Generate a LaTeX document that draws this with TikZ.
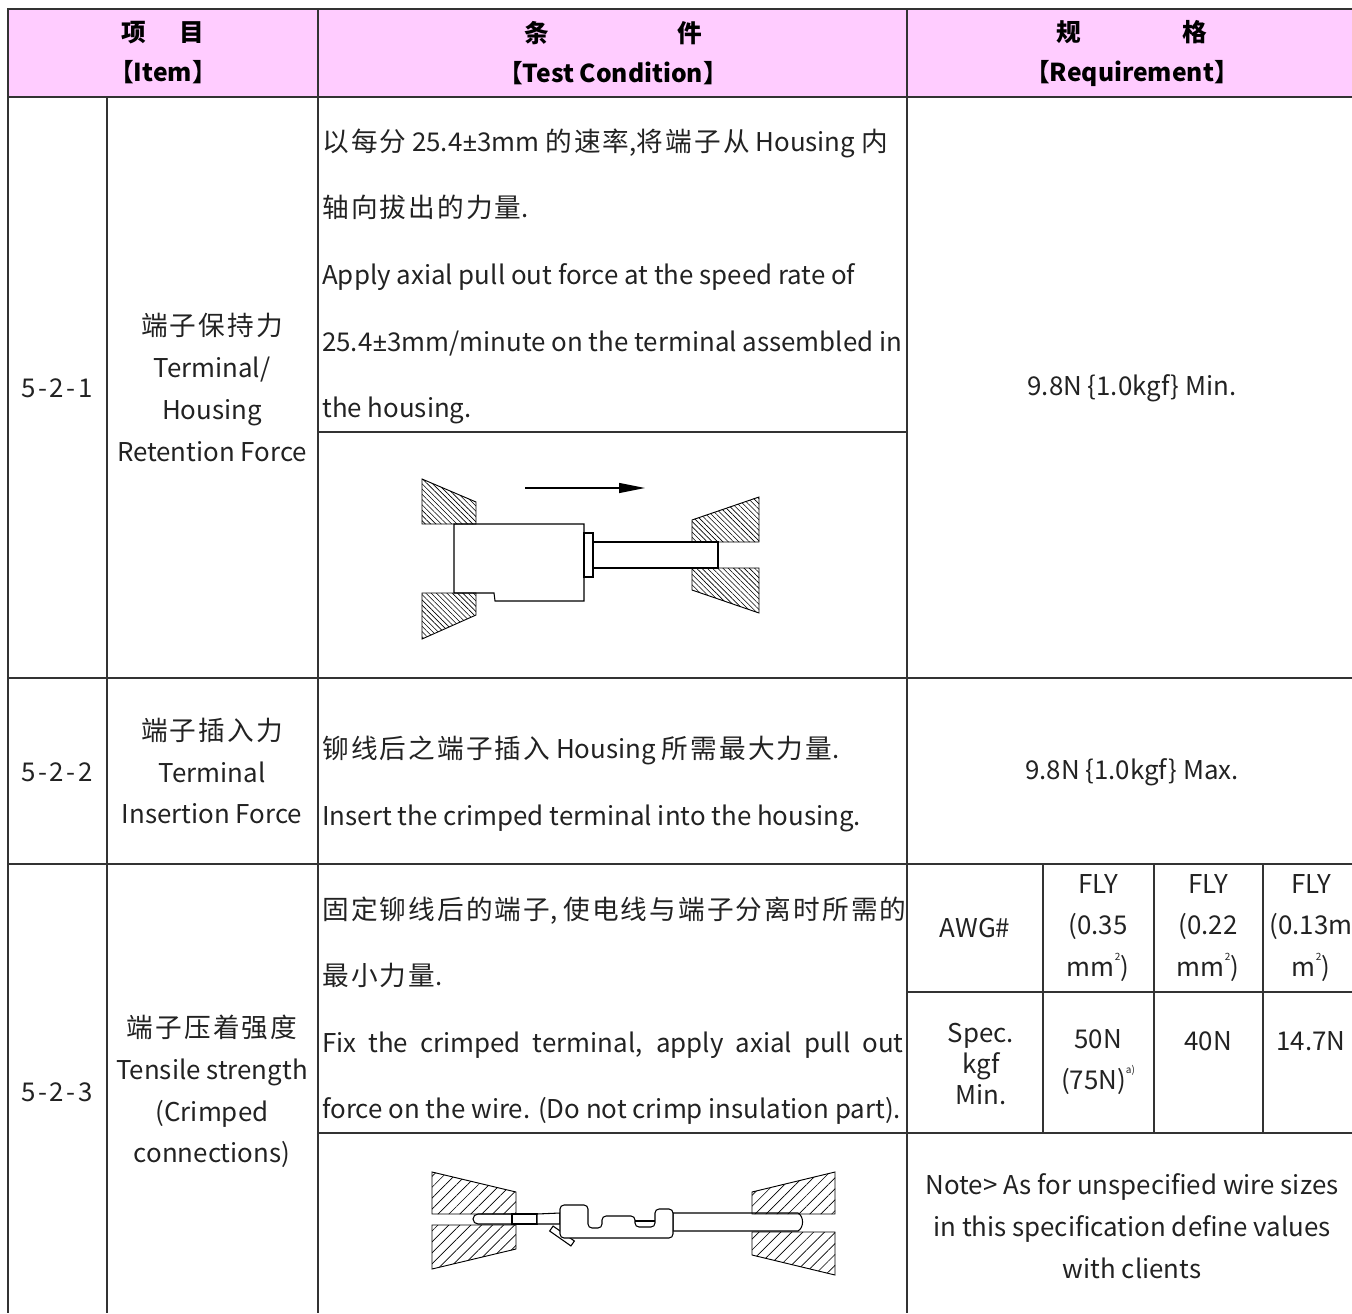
\documentclass[tikz,border=0pt]{standalone}
\usepackage{fontspec}
\setmainfont{Noto Sans CJK SC}
\newfontfamily\cjk[Scale=1.03, LetterSpace=8]{Noto Sans CJK SC}
\newfontfamily\pmfont{Noto Sans}
\usetikzlibrary{positioning, arrows.meta, patterns.meta}
\definecolor{headpink}{HTML}{FFCCFF}
\definecolor{inkgray}{HTML}{222222}
\newcommand{\supsc}[1]{\raisebox{0.62em}{\fontsize{7.5}{8}\selectfont #1}}
\newcommand{\pmsign}{{\pmfont ±}}
\tikzset{
  tline/.style={
    draw=black!80,
    line width=1.1pt
  },
  headtext/.style={
    font=\fontsize{18.5}{30}\selectfont\bfseries,
    align=center,
    inner sep=0pt
  },
  celltext/.style={
    font=\fontsize{19.4}{31.3}\selectfont,
    text=inkgray,
    align=center,
    inner sep=0pt
  },
  numtext/.style={
    celltext,
    font=\fontsize{19.4}{31.3}\selectfont\addfontfeature{LetterSpace=10}
  },
  condline/.style={
    font=\fontsize{19.4}{22}\selectfont,
    text=inkgray,
    anchor=west,
    inner sep=0pt,
    text height=0.8em,
    text depth=0.2em,
    yshift=-3pt
  },
  part/.style={
    draw,
    line width=0.8pt,
    fill=white
  },
  hatchfine/.style={
    draw,
    line width=0.7pt,
    pattern={Lines[angle=-45,distance=2.8pt,line width=0.45pt]}
  },
  hatchwide/.style={
    draw,
    line width=0.7pt,
    pattern={Lines[angle=45,distance=5.8pt,line width=0.5pt]}
  }
}

\begin{document}
\begin{tikzpicture}[x=0.75pt, y=-0.75pt]
  \useasboundingbox (0,0) rectangle (1352,1313);
  \clip (0,0) rectangle (1352,1313);

  % table frame
  \fill[headpink] (8,9) rectangle (1352,97);
  \draw[tline] (1352,9) -- (8,9) -- (8,1313);
  \draw[tline] (8,97) -- (1352,97);
  \draw[tline] (8,678) -- (1352,678);
  \draw[tline] (8,864) -- (1352,864);
  \draw[tline] (107,97) -- (107,1313);
  \draw[tline] (318,9) -- (318,1313);
  \draw[tline] (907,9) -- (907,1313);
  \draw[tline] (318,432) -- (907,432);
  \draw[tline] (318,1133) -- (1352,1133);
  \draw[tline] (907,992) -- (1352,992);
  \draw[tline] (1043,864) -- (1043,1133);
  \draw[tline] (1154,864) -- (1154,1133);
  \draw[tline] (1263,864) -- (1263,1133);

  % header
  \node[headtext] (hItem) at (163,53) {项\hspace{1.35em}目\\【Item】};
  \node[headtext] (hCond) at (613,53) {条\hspace{5.2em}件\\【Test Condition】};
  \node[headtext] (hReq) at (1132,53) {规\hspace{4.1em}格\\【Requirement】};

  % 5-2-1
  \node[numtext] (no1) at (57,388) {5-2-1};
  \node[celltext] (item1) at (212,387.5) {{\cjk 端子保持力}\\Terminal/\\Housing\\Retention Force};
  \node[condline] (cond1a) at (322,143) {{\cjk 以每分} 25.4\pmsign3mm {\cjk 的速率},{\cjk 将端子从} Housing {\cjk 内}};
  \node[condline] (cond1b) at (322,209) {{\cjk 轴向拔出的力量}.};
  \node[condline] (cond1c) at (322,276) {Apply axial pull out force at the speed rate of};
  \node[condline] (cond1d) at (322,343) {25.4\pmsign3mm/minute on the terminal assembled in};
  \node[condline] (cond1e) at (322,409) {the housing.};
  \node[celltext] (req1) at (1132,388) {9.8N \{1.0kgf\} Min.};

  % retention test sketch
  \draw[part] (454,524) -- (584,524) -- (584,601) -- (495,601) -- (494,593) -- (454,593) -- cycle;
  \draw[part] (584,533) rectangle (593,577);
  \draw[part] (593,542) rectangle (718,568);
  \draw[hatchfine] (422,479) -- (476,502) -- (476,524) -- (422,524) -- cycle;
  \draw[hatchfine] (422,593) -- (476,593) -- (476,615) -- (422,639) -- cycle;
  \draw[hatchfine] (692,520) -- (759,497) -- (759,542) -- (692,542) -- cycle;
  \draw[hatchfine] (692,568) -- (759,568) -- (759,613) -- (692,590) -- cycle;
  \coordinate (pullA) at (525,488);
  \coordinate (pullB) at (645,488);
  \draw[-{Triangle[length=19.5pt,width=7.5pt]}, line width=0.8pt] (pullA) -- (pullB);

  % 5-2-2
  \node[numtext] (no2) at (57,772) {5-2-2};
  \node[celltext] (item2) at (212,771) {{\cjk 端子插入力}\\Terminal\\Insertion Force};
  \node[condline] (cond2a) at (322,750) {{\cjk 铆线后之端子插入} Housing {\cjk 所需最大力量}.};
  \node[condline] (cond2b) at (322,817) {Insert the crimped terminal into the housing.};
  \node[celltext] (req2) at (1132,772) {9.8N \{1.0kgf\} Max.};

  % 5-2-3
  \node[numtext] (no3) at (57,1092) {5-2-3};
  \node[celltext] (item3) at (212,1091.5) {{\cjk 端子压着强度}\\Tensile strength\\(Crimped\\connections)};
  \node[condline] (cond3a) at (322,911) {{\cjk 固定铆线后的端子}, {\cjk 使电线与端子分离时所需的}};
  \node[condline] (cond3b) at (322,977) {{\cjk 最小力量}.};
  \node[condline] (cond3c) at (322,1044) {\makebox[436pt][s]{Fix the crimped terminal, apply axial pull out}};
  \node[condline] (cond3d) at (322,1110) {force on the wire. (Do not crimp insulation part).};

  % wire size sub-table
  \node[celltext] (awg) at (975,928) {AWG\#};
  \node[celltext] (fly1) at (1098,928) {FLY\\(0.35\\mm\supsc{2})};
  \node[celltext] (fly2) at (1208,928) {FLY\\(0.22\\mm\supsc{2})};
  \node[celltext] (fly3) at (1311,928) {FLY\\(0.13m\\m\supsc{2})};
  \node[celltext, font=\fontsize{19.4}{23}\selectfont] (spec) at (981,1064) {Spec.\\kgf\\Min.};
  \node[celltext] (val1) at (1098,1062) {50N\\(75N)\supsc{a)}};
  \node[celltext] (val2) at (1208,1041) {40N};
  \node[celltext] (val3) at (1311,1041) {14.7N};
  \node[celltext] (note) at (1132,1226) {Note> As for unspecified wire sizes\\in this specification define values\\with clients};

  % crimp tensile sketch
  \draw[part] (512,1214) -- (478,1214) arc[start angle=270, end angle=90, radius=5] -- (512,1224) -- cycle;
  \draw[part] (512,1214) -- (537,1214) -- (537,1224) -- (512,1224) -- cycle;
  \draw[part] (537,1214) -- (560,1213) -- (560,1224) -- (537,1224) -- cycle;
  \draw[part] (673,1213) -- (798,1213) to[out=-30, in=30] (798,1231) -- (673,1231) -- cycle;
  \draw[part, rotate around={-35:(562,1236)}] (549,1233) rectangle (575,1239);
  \draw[part, rounded corners=3pt] (560,1238) -- (560,1205) -- (588,1205) -- (588,1228) -- (602,1228) -- (602,1216)
    -- (635,1216) -- (635,1227) -- (655,1227) -- (655,1209) -- (673,1209) -- (673,1238) -- cycle;
  \draw[line width=0.8pt] (635,1221) -- (655,1221);
  \draw[hatchwide] (432,1172) -- (516,1192) -- (516,1214) -- (432,1214) -- cycle;
  \draw[hatchwide] (432,1225) -- (516,1225) -- (516,1249) -- (432,1269) -- cycle;
  \draw[hatchwide] (752,1192) -- (835,1172) -- (835,1214) -- (752,1214) -- cycle;
  \draw[hatchwide] (752,1232) -- (835,1232) -- (835,1275) -- (752,1255) -- cycle;
\end{tikzpicture}
\end{document}
